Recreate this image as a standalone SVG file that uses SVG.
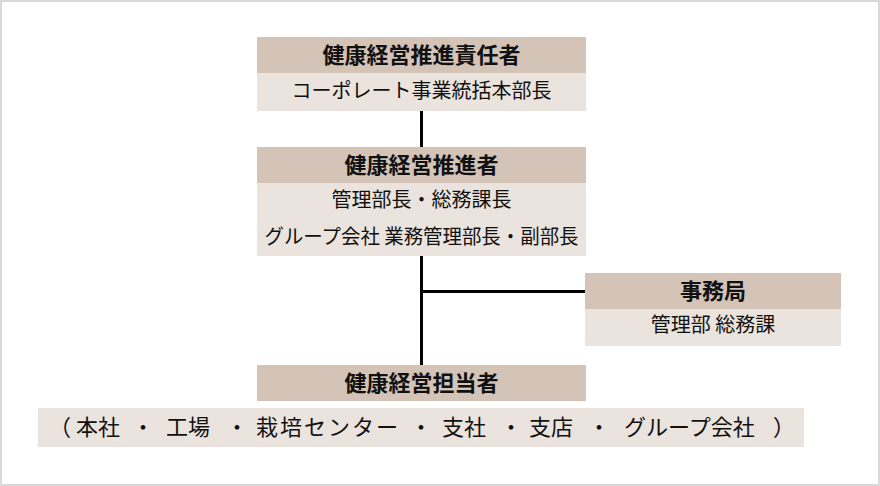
<svg xmlns="http://www.w3.org/2000/svg" width="880" height="486" viewBox="0 0 880 486">
<style>
.hd{fill:#d4c4b7}
.bd{fill:#ebe3dd}
.t{font-family:"Noto Sans CJK JP","Noto Sans",sans-serif;fill:#111;text-anchor:middle}
.h{font-size:22px;font-weight:bold}
.b{font-size:20px}
.w{font-family:"Noto Sans CJK JP","Noto Sans",sans-serif;fill:#111;font-size:22px;text-anchor:start}
.ln{stroke:#000;stroke-width:3;fill:none}
</style>
<rect x="1" y="1" width="878" height="484" fill="#fff" stroke="#d9d9d9" stroke-width="2"/>
<g id="connectors">
<line class="ln" x1="421.5" y1="111" x2="421.5" y2="147"/>
<line class="ln" x1="421.5" y1="256" x2="421.5" y2="365"/>
<line class="ln" x1="421.5" y1="291.5" x2="586" y2="291.5"/>
</g>
<g id="sekininsha">
<rect class="hd" x="257" y="37" width="329" height="36"/>
<rect class="bd" x="257" y="73" width="329" height="38"/>
<text class="t h" x="421.5" y="63">健康経営推進責任者</text>
<text class="t b" x="421.5" y="98">コーポレート事業統括本部長</text>
</g>
<g id="suishinsha">
<rect class="hd" x="257" y="147" width="329" height="36"/>
<rect class="bd" x="257" y="183" width="329" height="73"/>
<text class="t h" x="421.5" y="173">健康経営推進者</text>
<text class="t b" x="421.5" y="207">管理部長・総務課長</text>
<text class="t b" x="421.5" y="244" textLength="314" lengthAdjust="spacingAndGlyphs">グループ会社 業務管理部長・副部長</text>
</g>
<g id="jimukyoku">
<rect class="hd" x="585" y="273" width="256" height="36"/>
<rect class="bd" x="585" y="309" width="256" height="37"/>
<text class="t h" x="713" y="299">事務局</text>
<text class="t b" x="713" y="332">管理部 総務課</text>
</g>
<g id="tantousha">
<rect class="hd" x="257" y="365" width="329" height="36"/>
<rect class="bd" x="38" y="408" width="766" height="39"/>
<text class="t h" x="421.5" y="391">健康経営担当者</text>
<text class="w" y="435"><tspan x="49">（</tspan><tspan x="76">本社</tspan><tspan x="132">・</tspan><tspan x="166">工場</tspan><tspan x="226">・</tspan></text>
<text class="w" x="256" y="435" textLength="142" lengthAdjust="spacing">栽培センター</text>
<text class="w" y="435"><tspan x="410">・</tspan><tspan x="442">支社</tspan><tspan x="500">・</tspan><tspan x="529">支店</tspan><tspan x="588">・</tspan><tspan x="624">グループ会社</tspan><tspan x="773">）</tspan></text>
</g>
</svg>
